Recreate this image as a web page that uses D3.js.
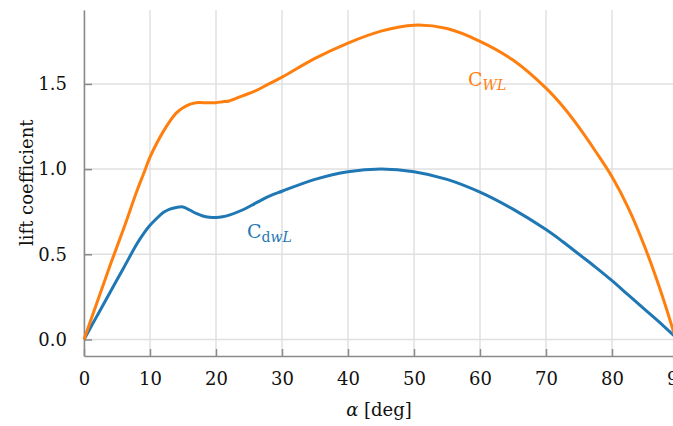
<!DOCTYPE html>
<html>
<head>
<meta charset="utf-8">
<script src="https://cdn.jsdelivr.net/npm/d3@7"></script>
<style>
  html, body { margin: 0; padding: 0; background: #fff; }
  svg { display: block; }
</style>
</head>
<body>
<div id="chart"></div>
<script>
const serif = '"DejaVu Serif", serif';

// angle of attack [deg]
const alpha = [0, 2, 4, 6, 8, 9, 10, 11, 12, 13, 14, 15, 16, 17, 18, 19, 20, 21, 22, 24, 26, 28, 30,
  35, 40, 45, 50, 55, 60, 65, 70, 72.5, 75, 77.5, 80, 82.5, 85, 87.5, 90];

// C_WL (orange)
const cWL = [0, 0.22, 0.44, 0.65, 0.87, 0.97, 1.07, 1.15, 1.22, 1.28, 1.33, 1.36, 1.38, 1.39, 1.39, 1.39, 1.39, 1.395, 1.40, 1.43, 1.46, 1.50, 1.54,
  1.65, 1.74, 1.81, 1.845, 1.825, 1.75, 1.64, 1.475, 1.37, 1.245, 1.105, 0.955, 0.77, 0.54, 0.27, -0.04];

// C_dwL (blue)
const cdwL = [0, 0.14, 0.28, 0.42, 0.56, 0.62, 0.67, 0.71, 0.745, 0.765, 0.775, 0.778, 0.76, 0.74, 0.725, 0.718, 0.716, 0.72, 0.73, 0.76, 0.80, 0.84, 0.87,
  0.94, 0.985, 1.0, 0.985, 0.94, 0.865, 0.765, 0.645, 0.575, 0.50, 0.425, 0.345, 0.26, 0.175, 0.09, 0];

const xTicks = [0, 10, 20, 30, 40, 50, 60, 70, 80, 90];
const yTicks = [0, 0.5, 1.0, 1.5];

const W = 673, H = 426;
const margin = { top: 10, left: 84, bottom: 70 };
const plotW = 594;
const plotH = H - margin.top - margin.bottom;

const svg = d3.select("#chart").append("svg").attr("width", W).attr("height", H)
  .attr("font-family", serif);

const x = d3.scaleLinear().domain([0, 90]).range([margin.left, margin.left + plotW]);
const y = d3.scaleLinear().domain([-0.097, 1.934]).range([margin.top + plotH, margin.top]);

const grid = "#e0e0e0";
const axisCol = "#8a8a8a";

// grid
svg.append("g").selectAll("line").data(xTicks).join("line")
  .attr("x1", (d) => x(d)).attr("x2", (d) => x(d))
  .attr("y1", y.range()[1]).attr("y2", y.range()[0])
  .attr("stroke", grid).attr("stroke-width", 1.5);
svg.append("g").selectAll("line").data(yTicks).join("line")
  .attr("x1", x.range()[0]).attr("x2", x.range()[1])
  .attr("y1", (d) => y(d)).attr("y2", (d) => y(d))
  .attr("stroke", grid).attr("stroke-width", 1.5);

// axes
const xAxis = svg.append("g").attr("transform", `translate(0,${y.range()[0]})`)
  .call(d3.axisBottom(x).tickValues(xTicks).tickSizeInner(-7).tickSizeOuter(0).tickPadding(16).tickFormat(d3.format("d")));
const yAxis = svg.append("g").attr("transform", `translate(${x.range()[0]},0)`)
  .call(d3.axisLeft(y).tickValues(yTicks).tickSizeInner(-8).tickSizeOuter(0).tickPadding(17).tickFormat(d3.format(".1f")));
for (const g of [xAxis, yAxis]) {
  g.attr("font-family", serif).attr("font-size", 18);
  g.select(".domain").attr("stroke", axisCol).attr("stroke-width", 1.5);
  g.selectAll(".tick line").attr("stroke", axisCol).attr("stroke-width", 1.5);
  g.selectAll(".tick text").attr("fill", "#111");
}

// curves
const line = (vals) => d3.line()
  .x((d, i) => x(alpha[i]))
  .y((d) => y(d))
  .curve(d3.curveCatmullRom.alpha(0.5))(vals);

svg.append("path").attr("d", line(cdwL)).attr("fill", "none")
  .attr("stroke", "#1f77b4").attr("stroke-width", 3).attr("stroke-linejoin", "round");
svg.append("path").attr("d", line(cWL)).attr("fill", "none")
  .attr("stroke", "#ff7f0e").attr("stroke-width", 3).attr("stroke-linejoin", "round");

// curve labels
function label(xp, yp, color, sub, subItalicFrom) {
  const t = svg.append("text").attr("x", xp).attr("y", yp).attr("fill", color)
    .attr("font-size", 19);
  t.append("tspan").text("C");
  const s = t.append("tspan").attr("dy", 4).attr("font-size", 14);
  [...sub].forEach((ch, i) => {
    s.append("tspan").text(ch).attr("font-style", i >= subItalicFrom ? "italic" : "normal");
  });
}
label(468, 86, "#ff7f0e", "WL", 0);
label(247, 238, "#1f77b4", "dwL", 1);

// axis titles
svg.append("text").attr("x", x(45) - 2).attr("y", 416).attr("text-anchor", "middle")
  .attr("font-size", 18).attr("fill", "#111")
  .html('<tspan font-style="italic">α</tspan> [deg]');
svg.append("text").attr("transform", `translate(33,${y(0.92)}) rotate(-90)`).attr("text-anchor", "middle")
  .attr("font-size", 18).attr("fill", "#111")
  .text("lift coefficient");
</script>
</body>
</html>
